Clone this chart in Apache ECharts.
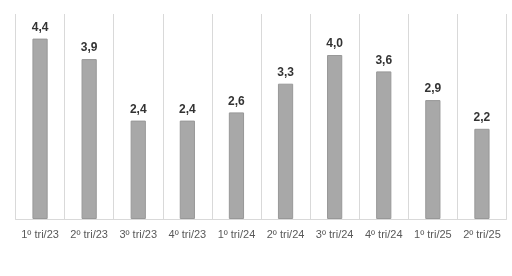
<!DOCTYPE html>
<html><head><meta charset="utf-8">
<script src="https://cdn.jsdelivr.net/npm/echarts@6/dist/echarts.min.js"></script>
<style>html,body{margin:0;padding:0;background:#fff}#c{width:512px;height:276px}</style>
</head><body><div id="c"></div>
<script>
const categories = ['1º tri/23','2º tri/23','3º tri/23','4º tri/23','1º tri/24','2º tri/24','3º tri/24','4º tri/24','1º tri/25','2º tri/25'];
const values = [4.4, 3.9, 2.4, 2.4, 2.6, 3.3, 4.0, 3.6, 2.9, 2.2];
const chart = echarts.init(document.getElementById('c'));
chart.setOption({
  animation: false,
  grid: {left: 15.5, right: 5.5, top: 14, bottom: 57},
  xAxis: {
    type: 'category', data: categories,
    axisLine: {lineStyle: {color: '#d9d9d9'}},
    axisTick: {show: false},
    splitLine: {show: true, lineStyle: {color: '#d9d9d9', width: 1}},
    axisLabel: {color: '#595959', fontSize: 11, fontFamily: 'Liberation Sans', margin: 10, interval: 0}
  },
  yAxis: {type: 'value', min: 0, max: 5, show: false, splitLine: {show: false}},
  series: [{
    type: 'bar', data: values, barWidth: '31%',
    itemStyle: {color: '#a8a8a8', borderColor: '#989898', borderWidth: 1},
    label: {show: true, position: 'top', distance: 5, color: '#333333', fontSize: 12, fontWeight: 'bold', fontFamily: 'Liberation Sans',
      formatter: p => p.value.toFixed(1).replace('.', ',')}
  }]
});
</script></body></html>
